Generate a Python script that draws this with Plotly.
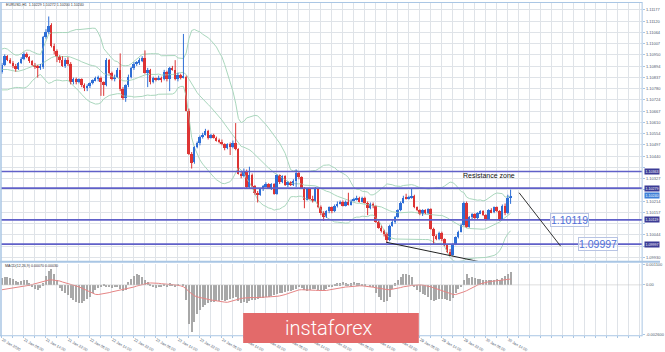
import numpy as np
import pandas as pd
import plotly.graph_objects as go

# ---------------- data (EURUSD, H1) ----------------
time_labels = ["20 Jan 2020", "21 Jan 06:00", "21 Jan 14:00", "21 Jan 22:00", "22 Jan 06:00",
               "22 Jan 14:00", "22 Jan 22:00", "23 Jan 06:00", "23 Jan 14:00", "23 Jan 22:00",
               "24 Jan 06:00", "24 Jan 14:00", "24 Jan 22:00", "27 Jan 06:00", "27 Jan 14:00",
               "27 Jan 22:00", "28 Jan 06:00", "28 Jan 14:00", "28 Jan 22:00", "29 Jan 06:00",
               "29 Jan 14:00", "29 Jan 22:00", "30 Jan 06:00", "30 Jan 14:00"]

opens = [1.10866, 1.10900, 1.10944, 1.10924, 1.10910, 1.10895, 1.10880, 1.10910, 1.10929, 1.10953,
         1.10939, 1.10919, 1.10900, 1.10890, 1.10885, 1.10890, 1.11041, 1.11066, 1.11100, 1.10997,
         1.10968, 1.10939, 1.10924, 1.10895, 1.10924, 1.10905, 1.10812, 1.10827, 1.10812, 1.10827,
         1.10797, 1.10788, 1.10792, 1.10807, 1.10822, 1.10832, 1.10836, 1.10812, 1.10797, 1.10924,
         1.10861, 1.10827, 1.10841, 1.10875, 1.10778, 1.10734, 1.10797, 1.10841, 1.10885, 1.10905,
         1.10910, 1.10924, 1.10934, 1.10861, 1.10875, 1.10812, 1.10832, 1.10827, 1.10836, 1.10827,
         1.10866, 1.10827, 1.10885, 1.10875, 1.10827, 1.10851, 1.10836, 1.10841, 1.10670, 1.10451,
         1.10412, 1.10485, 1.10505, 1.10539, 1.10548, 1.10568, 1.10534, 1.10548, 1.10534, 1.10519,
         1.10514, 1.10500, 1.10480, 1.10500, 1.10485, 1.10509, 1.10475, 1.10353, 1.10339, 1.10368,
         1.10285, 1.10348, 1.10290, 1.10256, 1.10246, 1.10275, 1.10290, 1.10300, 1.10280, 1.10300,
         1.10251, 1.10344, 1.10309, 1.10339, 1.10295, 1.10309, 1.10295, 1.10314, 1.10358, 1.10334,
         1.10280, 1.10222, 1.10275, 1.10226, 1.10217, 1.10275, 1.10182, 1.10153, 1.10134, 1.10163,
         1.10182, 1.10163, 1.10192, 1.10202, 1.10212, 1.10192, 1.10212, 1.10197, 1.10217, 1.10222,
         1.10231, 1.10212, 1.10231, 1.10207, 1.10178, 1.10202, 1.10187, 1.10109, 1.10080, 1.10065,
         1.10046, 1.10017, 1.10090, 1.10109, 1.10134, 1.10168, 1.10207, 1.10231, 1.10226, 1.10231,
         1.10241, 1.10182, 1.10168, 1.10148, 1.10168, 1.10153, 1.10173, 1.10075, 1.10036, 1.10021,
         1.10056, 1.10021, 1.09992, 1.09958, 1.09943, 1.09997, 1.10031, 1.10060, 1.10095, 1.10207,
         1.10085, 1.10134, 1.10148, 1.10129, 1.10153, 1.10163, 1.10143, 1.10124, 1.10168, 1.10158,
         1.10182, 1.10163, 1.10124, 1.10192, 1.10153, 1.10229]

closes = [1.10900, 1.10944, 1.10924, 1.10910, 1.10895, 1.10880, 1.10910, 1.10929, 1.10953, 1.10939,
          1.10919, 1.10900, 1.10890, 1.10885, 1.10890, 1.11041, 1.11066, 1.11095, 1.10997, 1.10968,
          1.10939, 1.10924, 1.10895, 1.10924, 1.10905, 1.10812, 1.10827, 1.10812, 1.10827, 1.10797,
          1.10788, 1.10792, 1.10807, 1.10822, 1.10832, 1.10836, 1.10812, 1.10797, 1.10924, 1.10861,
          1.10827, 1.10841, 1.10875, 1.10778, 1.10734, 1.10797, 1.10841, 1.10885, 1.10905, 1.10910,
          1.10924, 1.10934, 1.10861, 1.10875, 1.10812, 1.10832, 1.10827, 1.10836, 1.10827, 1.10866,
          1.10827, 1.10885, 1.10875, 1.10827, 1.10851, 1.10836, 1.10846, 1.10670, 1.10451, 1.10407,
          1.10485, 1.10505, 1.10539, 1.10548, 1.10568, 1.10534, 1.10548, 1.10534, 1.10519, 1.10514,
          1.10500, 1.10480, 1.10500, 1.10485, 1.10509, 1.10475, 1.10353, 1.10339, 1.10368, 1.10285,
          1.10348, 1.10290, 1.10256, 1.10246, 1.10275, 1.10290, 1.10300, 1.10280, 1.10300, 1.10251,
          1.10344, 1.10309, 1.10339, 1.10295, 1.10309, 1.10295, 1.10314, 1.10358, 1.10334, 1.10280,
          1.10222, 1.10275, 1.10226, 1.10217, 1.10275, 1.10182, 1.10153, 1.10134, 1.10163, 1.10182,
          1.10163, 1.10192, 1.10202, 1.10212, 1.10192, 1.10212, 1.10197, 1.10217, 1.10222, 1.10231,
          1.10212, 1.10231, 1.10207, 1.10178, 1.10202, 1.10187, 1.10109, 1.10080, 1.10065, 1.10046,
          1.10017, 1.10090, 1.10109, 1.10134, 1.10168, 1.10207, 1.10231, 1.10226, 1.10231, 1.10241,
          1.10182, 1.10168, 1.10148, 1.10168, 1.10153, 1.10173, 1.10075, 1.10036, 1.10021, 1.10056,
          1.10021, 1.09992, 1.09958, 1.09943, 1.09997, 1.10031, 1.10060, 1.10095, 1.10207, 1.10085,
          1.10134, 1.10148, 1.10129, 1.10153, 1.10163, 1.10143, 1.10124, 1.10168, 1.10158, 1.10182,
          1.10163, 1.10124, 1.10192, 1.10153, 1.10229, 1.10240]

highs = [1.10910, 1.10953, 1.10949, 1.10934, 1.10919, 1.10905, 1.10914, 1.10939, 1.10963, 1.10963,
         1.10944, 1.10924, 1.10910, 1.10900, 1.10905, 1.11046, 1.11080, 1.11144, 1.11110, 1.11007,
         1.10978, 1.10949, 1.10944, 1.10934, 1.10939, 1.10914, 1.10836, 1.10836, 1.10832, 1.10832,
         1.10807, 1.10802, 1.10812, 1.10827, 1.10841, 1.10846, 1.10841, 1.10817, 1.10934, 1.10929,
         1.10866, 1.10851, 1.10885, 1.10958, 1.10788, 1.10802, 1.10851, 1.10890, 1.10914, 1.10919,
         1.10934, 1.10944, 1.10973, 1.10885, 1.10880, 1.10841, 1.10836, 1.10846, 1.10841, 1.10875,
         1.10871, 1.10890, 1.10895, 1.10924, 1.10861, 1.10856, 1.11056, 1.10846, 1.10680, 1.10461,
         1.10490, 1.10514, 1.10544, 1.10558, 1.10578, 1.10573, 1.10553, 1.10553, 1.10539, 1.10529,
         1.10524, 1.10505, 1.10505, 1.10509, 1.10519, 1.10607, 1.10480, 1.10363, 1.10378, 1.10373,
         1.10387, 1.10353, 1.10295, 1.10265, 1.10280, 1.10295, 1.10309, 1.10304, 1.10304, 1.10304,
         1.10348, 1.10348, 1.10344, 1.10344, 1.10314, 1.10314, 1.10324, 1.10373, 1.10363, 1.10339,
         1.10285, 1.10280, 1.10280, 1.10241, 1.10285, 1.10280, 1.10192, 1.10163, 1.10168, 1.10187,
         1.10187, 1.10197, 1.10212, 1.10217, 1.10217, 1.10217, 1.10256, 1.10222, 1.10231, 1.10241,
         1.10236, 1.10236, 1.10236, 1.10212, 1.10207, 1.10207, 1.10192, 1.10114, 1.10090, 1.10070,
         1.10056, 1.10095, 1.10119, 1.10139, 1.10173, 1.10212, 1.10241, 1.10251, 1.10241, 1.10280,
         1.10246, 1.10187, 1.10173, 1.10173, 1.10173, 1.10178, 1.10178, 1.10080, 1.10046, 1.10060,
         1.10060, 1.10026, 1.09997, 1.09973, 1.10002, 1.10036, 1.10065, 1.10100, 1.10212, 1.10212,
         1.10139, 1.10153, 1.10153, 1.10158, 1.10168, 1.10168, 1.10148, 1.10173, 1.10178, 1.10187,
         1.10187, 1.10168, 1.10197, 1.10202, 1.10246, 1.10272]

lows = [1.10856, 1.10895, 1.10919, 1.10905, 1.10885, 1.10866, 1.10875, 1.10905, 1.10924, 1.10934,
        1.10910, 1.10895, 1.10880, 1.10836, 1.10875, 1.10880, 1.11032, 1.11056, 1.10988, 1.10953,
        1.10914, 1.10910, 1.10890, 1.10885, 1.10895, 1.10802, 1.10802, 1.10802, 1.10807, 1.10788,
        1.10768, 1.10768, 1.10783, 1.10802, 1.10817, 1.10817, 1.10744, 1.10744, 1.10792, 1.10851,
        1.10822, 1.10817, 1.10836, 1.10768, 1.10724, 1.10714, 1.10788, 1.10832, 1.10875, 1.10895,
        1.10900, 1.10914, 1.10856, 1.10788, 1.10802, 1.10807, 1.10817, 1.10822, 1.10812, 1.10822,
        1.10817, 1.10768, 1.10871, 1.10822, 1.10817, 1.10827, 1.10832, 1.10666, 1.10446, 1.10378,
        1.10402, 1.10480, 1.10495, 1.10529, 1.10544, 1.10524, 1.10529, 1.10529, 1.10514, 1.10505,
        1.10495, 1.10470, 1.10475, 1.10446, 1.10480, 1.10470, 1.10348, 1.10329, 1.10334, 1.10275,
        1.10280, 1.10285, 1.10246, 1.10207, 1.10241, 1.10265, 1.10285, 1.10275, 1.10270, 1.10246,
        1.10246, 1.10300, 1.10304, 1.10290, 1.10285, 1.10290, 1.10290, 1.10285, 1.10324, 1.10275,
        1.10178, 1.10217, 1.10222, 1.10207, 1.10212, 1.10178, 1.10143, 1.10114, 1.10129, 1.10153,
        1.10153, 1.10158, 1.10182, 1.10197, 1.10187, 1.10187, 1.10192, 1.10192, 1.10212, 1.10217,
        1.10207, 1.10207, 1.10202, 1.10143, 1.10173, 1.10178, 1.10104, 1.10075, 1.10056, 1.10036,
        1.10007, 1.10012, 1.10085, 1.10100, 1.10129, 1.10163, 1.10202, 1.10222, 1.10222, 1.10226,
        1.10178, 1.10163, 1.10143, 1.10139, 1.10148, 1.10148, 1.10070, 1.09997, 1.10017, 1.10017,
        1.10012, 1.09987, 1.09953, 1.09938, 1.09938, 1.09992, 1.10026, 1.10056, 1.10090, 1.10080,
        1.10080, 1.10124, 1.10124, 1.10124, 1.10148, 1.10139, 1.10114, 1.10119, 1.10153, 1.10153,
        1.10158, 1.10114, 1.10119, 1.10143, 1.10148, 1.10200]

# closes before the first visible bar (Bollinger warm-up, estimated)
pre_closes = [1.10900, 1.10920, 1.10950, 1.10975, 1.10960, 1.10930, 1.10905, 1.10880, 1.10850, 1.10820,
              1.10800, 1.10790, 1.10810, 1.10830, 1.10850, 1.10865, 1.10880, 1.10875, 1.10885, 1.10866]

macd_hist = [0.00040, 0.00045, 0.00045, 0.00040, 0.00035, 0.00020, 0.00015, 0.00020, 0.00025, 0.00025,
             0.00010, -0.00010, -0.00020, -0.00025, -0.00015, 0.00010, 0.00050, 0.00075, 0.00085, 0.00060,
             0.00030, -0.00015, -0.00030, -0.00040, -0.00050, -0.00065, -0.00075, -0.00085, -0.00090, -0.00090,
             -0.00080, -0.00070, -0.00060, -0.00040, -0.00025, -0.00015, -0.00010, 0.00005, -0.00005, -0.00010,
             -0.00015, -0.00010, -0.00005, -0.00020, -0.00030, -0.00025, 0.00015, 0.00035, 0.00050, 0.00060,
             0.00055, 0.00045, 0.00030, 0.00015, 0.00005, -0.00010, -0.00015, -0.00010, -0.00005, 0.00005,
             -0.00005, 0.00010, 0.00005, -0.00005, 0.00005, 0.00000, 0.00005, -0.00075, -0.00200, -0.00240,
             -0.00190, -0.00150, -0.00125, -0.00110, -0.00100, -0.00090, -0.00085, -0.00085, -0.00080, -0.00080,
             -0.00075, -0.00080, -0.00075, -0.00070, -0.00065, -0.00060, -0.00080, -0.00090, -0.00085, -0.00090,
             -0.00080, -0.00075, -0.00075, -0.00070, -0.00065, -0.00065, -0.00060, -0.00060, -0.00055, -0.00050,
             -0.00045, -0.00040, -0.00040, -0.00035, -0.00030, -0.00030, -0.00025, -0.00020, -0.00010, -0.00015,
             -0.00025, -0.00030, -0.00025, -0.00020, -0.00020, -0.00025, -0.00030, -0.00025, -0.00020, -0.00010,
             -0.00005, 0.00005, 0.00010, 0.00010, 0.00015, 0.00010, 0.00005, 0.00010, 0.00015, 0.00010,
             0.00010, 0.00005, 0.00005, 0.00000, -0.00005, -0.00010, -0.00040, -0.00060, -0.00075, -0.00085,
             -0.00080, -0.00060, -0.00020, 0.00010, 0.00025, 0.00045, 0.00060, 0.00060, 0.00055, 0.00045,
             -0.00010, -0.00025, -0.00035, -0.00045, -0.00050, -0.00060, -0.00075, -0.00080, -0.00075, -0.00070,
             -0.00070, -0.00070, -0.00075, -0.00080, -0.00065, -0.00040, -0.00020, -0.00005, 0.00025, 0.00060,
             0.00040, 0.00045, 0.00040, 0.00035, 0.00035, 0.00030, 0.00025, 0.00025, 0.00030, 0.00025,
             0.00035, 0.00030, 0.00040, 0.00050, 0.00060, 0.00070]

macd_signal = [-0.00025, -0.00023, -0.00020, -0.00017, -0.00016, -0.00013, -0.00010, -0.00008, -0.00006, -0.00004,
               -0.00002, 0.00002, 0.00006, 0.00010, 0.00015, 0.00020, 0.00022, 0.00025, 0.00026, 0.00025,
               0.00023, 0.00020, 0.00015, 0.00010, 0.00005, 0.00000, -0.00003, -0.00006, -0.00010, -0.00016,
               -0.00023, -0.00030, -0.00038, -0.00044, -0.00049, -0.00050, -0.00048, -0.00045, -0.00042, -0.00040,
               -0.00036, -0.00033, -0.00030, -0.00028, -0.00026, -0.00023, -0.00020, -0.00016, -0.00011, -0.00006,
               -0.00002, 0.00001, 0.00005, 0.00008, 0.00010, 0.00010, 0.00009, 0.00008, 0.00006, 0.00004,
               0.00003, 0.00002, 0.00001, 0.00000, -0.00002, -0.00005, -0.00010, -0.00020, -0.00035, -0.00047,
               -0.00056, -0.00062, -0.00066, -0.00070, -0.00073, -0.00076, -0.00078, -0.00080, -0.00083, -0.00085,
               -0.00087, -0.00089, -0.00090, -0.00086, -0.00081, -0.00076, -0.00073, -0.00070, -0.00068, -0.00066,
               -0.00065, -0.00065, -0.00066, -0.00066, -0.00065, -0.00065, -0.00063, -0.00062, -0.00062, -0.00060,
               -0.00059, -0.00057, -0.00055, -0.00050, -0.00045, -0.00040, -0.00035, -0.00030, -0.00026, -0.00025,
               -0.00025, -0.00025, -0.00026, -0.00027, -0.00028, -0.00029, -0.00030, -0.00030, -0.00029, -0.00026,
               -0.00023, -0.00020, -0.00017, -0.00015, -0.00013, -0.00011, -0.00010, -0.00008, -0.00007, -0.00006,
               -0.00005, -0.00005, -0.00006, -0.00007, -0.00009, -0.00012, -0.00015, -0.00018, -0.00020, -0.00022,
               -0.00024, -0.00025, -0.00023, -0.00020, -0.00017, -0.00014, -0.00010, -0.00007, -0.00005, -0.00003,
               -0.00002, 0.00000, 0.00000, -0.00001, -0.00003, -0.00006, -0.00010, -0.00015, -0.00020, -0.00025,
               -0.00030, -0.00035, -0.00040, -0.00045, -0.00049, -0.00050, -0.00046, -0.00041, -0.00036, -0.00030,
               -0.00022, -0.00015, -0.00008, -0.00001, 0.00005, 0.00010, 0.00013, 0.00016, 0.00018, 0.00020,
               0.00022, 0.00024, 0.00025, 0.00027, 0.00028, 0.00030]

macd_range = [-0.00260, 0.00110]

levels = [1.10363, 1.10279, 1.10119, 1.09997]
level_labels = ["1.10119", "1.09997"]
current_price = 1.10240
price_ticks = [1.11177, 1.11120, 1.11064, 1.11007, 1.10950, 1.10894, 1.10837, 1.10780, 1.10724,
               1.10667, 1.10610, 1.10554, 1.10497, 1.10440, 1.10384, 1.10327, 1.10270, 1.10214,
               1.10157, 1.10100, 1.10044, 1.09987, 1.09930]
# support trendline under lows (bar, price) and projected path
trend_pts = [(139.7, 1.10007), (173.6, 1.09909)]
proj_pts = [(188.1, 1.10256), (203.2, 1.09987)]

# ---------------- Bollinger bands (20, 2) ----------------
npre = len(pre_closes)
allc = pd.Series(pre_closes + closes)
bb_mid = allc.rolling(20).mean()
bb_sd = allc.rolling(20).std(ddof=0)
bb_up = (bb_mid + 2 * bb_sd).values[npre:]
bb_lo = (bb_mid - 2 * bb_sd).values[npre:]
bb_mid = bb_mid.values[npre:]

# ---------------- figure ----------------
W, H = 665, 352
BLUE = "#2f6fd6"
RED = "#dd3434"
BB = "#a9d6bc"
LEVEL = "#6060c8"
FRAME = "#a9c6e4"
GRID = "#dfe3e8"
AXTXT = "#4f5a6c"

def px(x):
    return x / W

def py(y):
    return 1 - y / H

n = len(closes)
idx = np.arange(n)
o = np.array(opens); c = np.array(closes); h = np.array(highs); l = np.array(lows)
bull = c >= o

fig = go.Figure()

for band in (bb_up, bb_mid, bb_lo):
    fig.add_trace(go.Scatter(x=idx, y=band, mode="lines", line=dict(color=BB, width=1),
                             hoverinfo="skip", xaxis="x", yaxis="y"))

for mask, col in ((bull, BLUE), (~bull, RED)):
    wx, wy = [], []
    for i in idx[mask]:
        wx += [i, i, None]
        wy += [l[i], h[i], None]
    fig.add_trace(go.Scatter(x=wx, y=wy, mode="lines", line=dict(color=col, width=1),
                             hoverinfo="skip", xaxis="x", yaxis="y"))

fig.add_trace(go.Bar(x=idx, y=np.abs(c - o), base=np.minimum(o, c), width=0.72,
                     marker=dict(color=np.where(bull, BLUE, RED), line=dict(width=0)),
                     xaxis="x", yaxis="y"))

fig.add_trace(go.Bar(x=idx, y=macd_hist, width=0.38, marker=dict(color="#a8a8a8", line=dict(width=0)),
                     xaxis="x2", yaxis="y2"))
fig.add_trace(go.Scatter(x=idx, y=macd_signal, mode="lines", line=dict(color="#e58585", width=1),
                         xaxis="x2", yaxis="y2"))

XR = [-0.36, 232.85]
grid_pos = list(range(0, 233, 4))
tick_text = []
for g in grid_pos:
    if g % 8 == 0 and g // 8 < len(time_labels):
        tick_text.append(time_labels[g // 8])
    else:
        tick_text.append("")

# hide axis tick texts that sit under the level / price boxes
box_prices = levels + [current_price]
ptext = []
for v in price_ticks:
    if min(abs(v - b) for b in box_prices) < 0.00022:
        ptext.append("")
    else:
        ptext.append(f"{v:.5f}")

fig.update_layout(
    width=W, height=H, margin=dict(l=0, r=0, t=0, b=0),
    paper_bgcolor="white", plot_bgcolor="white", showlegend=False, bargap=0,
    xaxis=dict(domain=[px(1), px(647)], range=XR, anchor="y", tickvals=grid_pos,
               showticklabels=False, showgrid=True, gridcolor=GRID, gridwidth=1,
               zeroline=False, ticks=""),
    yaxis=dict(domain=[py(267), py(1)], range=[1.09914, 1.11212], anchor="x", side="right",
               tickvals=price_ticks, ticktext=ptext,
               tickfont=dict(size=4, color=AXTXT, family="Liberation Sans"),
               showgrid=True, gridcolor=GRID, zeroline=False, ticks="outside", ticklen=2,
               tickcolor=FRAME),
    xaxis2=dict(domain=[px(1), px(647)], range=XR, anchor="y2", tickvals=grid_pos,
                ticktext=tick_text, ticklabelposition="outside right",
                tickfont=dict(size=3.8, color=AXTXT, family="Liberation Sans"),
                showgrid=True, gridcolor=GRID, zeroline=False, ticks="outside", ticklen=2,
                tickcolor=FRAME),
    yaxis2=dict(domain=[py(344), py(270)], range=macd_range, anchor="x2", side="right",
                tickvals=[macd_range[1] * 0.97, 0, macd_range[0] * 0.98],
                ticktext=[f"{macd_range[1]:.6f}", "0.00", f"{macd_range[0]:.6f}"],
                tickfont=dict(size=4, color=AXTXT, family="Liberation Sans"),
                showgrid=False, zeroline=False, ticks="outside", ticklen=2, tickcolor=FRAME),
)

shapes = []
for lv in levels:
    shapes.append(dict(type="line", xref="paper", yref="y", x0=px(1), x1=px(647), y0=lv, y1=lv,
                       line=dict(color=LEVEL, width=1.7)))
shapes.append(dict(type="line", xref="x", yref="y", x0=trend_pts[0][0], y0=trend_pts[0][1],
                   x1=trend_pts[1][0], y1=trend_pts[1][1], line=dict(color="#222222", width=1)))
shapes.append(dict(type="line", xref="x", yref="y", x0=proj_pts[0][0], y0=proj_pts[0][1],
                   x1=proj_pts[1][0], y1=proj_pts[1][1], line=dict(color="#333333", width=1)))
shapes += [
    dict(type="line", xref="paper", yref="paper", x0=px(0), x1=px(647), y0=py(0.5), y1=py(0.5),
         line=dict(color=FRAME, width=1)),
    dict(type="line", xref="paper", yref="paper", x0=px(1), x1=px(1), y0=py(0), y1=py(345),
         line=dict(color=FRAME, width=1.5)),
    dict(type="line", xref="paper", yref="paper", x0=px(0), x1=px(665), y0=py(268), y1=py(268),
         line=dict(color=FRAME, width=2)),
    dict(type="line", xref="paper", yref="paper", x0=px(0), x1=px(647), y0=py(344.5), y1=py(344.5),
         line=dict(color=FRAME, width=1)),
    dict(type="line", xref="paper", yref="paper", x0=px(647), x1=px(647), y0=py(0), y1=py(345),
         line=dict(color=FRAME, width=1)),
    dict(type="line", xref="paper", yref="y2", x0=px(1), x1=px(647), y0=0, y1=0,
         line=dict(color="#c8c8c8", width=0.6)),
]
shapes.append(dict(type="rect", xref="paper", yref="paper", x0=px(245), x1=px(422), y0=0, y1=py(321),
                   fillcolor="#e36a6a", line=dict(width=0), layer="above"))
fig.update_layout(shapes=shapes)

ann = []
ann.append(dict(xref="paper", yref="paper", x=px(4), y=py(3.5), xanchor="left", yanchor="middle",
                text="EURUSD,H1  1.10229 1.10272 1.10200 1.10240", showarrow=False,
                font=dict(size=3.6, color="#333333", family="Liberation Sans")))
ann.append(dict(xref="paper", yref="paper", x=px(3), y=py(272.5), xanchor="left", yanchor="middle",
                text="MACD(12,26,9) 0.00070 0.00030", showarrow=False,
                font=dict(size=3.6, color="#333333", family="Liberation Sans")))
ann.append(dict(xref="paper", yref="paper", x=px(493), y=py(179), xanchor="center", yanchor="middle",
                text="Resistance zone", showarrow=False,
                font=dict(size=7, color="#111111", family="Liberation Sans")))
for lv_txt, lv, cx in ((level_labels[0], levels[2], 574), (level_labels[1], levels[3], 603)):
    ann.append(dict(xref="paper", yref="y", x=px(cx), y=lv, xanchor="center", yanchor="middle",
                    text=lv_txt, showarrow=False, bgcolor="rgba(255,255,255,0.6)",
                    bordercolor="#b8c4e4", borderwidth=1, borderpad=0,
                    font=dict(size=10.5, color="#4f6fd6", family="Liberation Sans")))
for lv in levels:
    ann.append(dict(xref="paper", yref="y", x=px(649), y=lv, xanchor="left", yanchor="middle",
                    text=f"{lv:.5f}", showarrow=False, bgcolor="#3b3b95", borderpad=0.5,
                    font=dict(size=3.6, color="white", family="Liberation Sans")))
ann.append(dict(xref="paper", yref="y", x=px(649), y=current_price, xanchor="left", yanchor="middle",
                text=f"{current_price:.5f}", showarrow=False, bgcolor="#3f7fd8", borderpad=0.5,
                font=dict(size=3.6, color="white", family="Liberation Sans")))
ann.append(dict(xref="paper", yref="paper", x=px(331), y=py(336), xanchor="center", yanchor="middle",
                text="instaforex", showarrow=False,
                font=dict(size=20, color="white", family="Roboto", weight=300)))
fig.update_layout(annotations=ann)

fig.write_html("out.html")
